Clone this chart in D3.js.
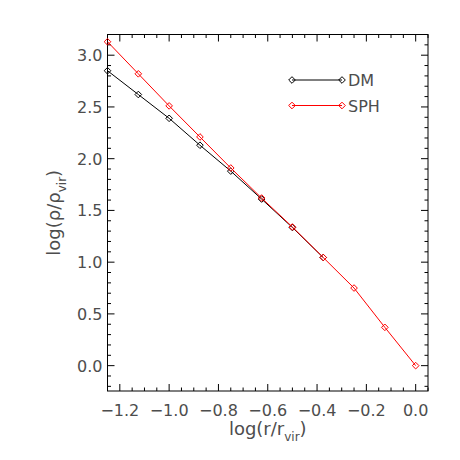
<!DOCTYPE html>
<html>
<head>
<meta charset="utf-8">
<script src="https://cdn.jsdelivr.net/npm/d3@7"></script>
<style>
  body { margin: 0; background: #fff; }
  text { font-family: "DejaVu Sans", Helvetica, Arial, sans-serif; fill: #4d4d4d; }
</style>
</head>
<body>
<div id="chart"></div>
<script>
// log(r/r_vir) sample points
const logR = [-1.25, -1.125, -1.0, -0.875, -0.75, -0.625, -0.5, -0.375, -0.25, -0.125, 0.0];
// log(rho/rho_vir) for each run
const dmRho = [2.85, 2.62, 2.39, 2.13, 1.88, 1.61, 1.335, 1.045];
const sphRho = [3.13, 2.82, 2.51, 2.21, 1.91, 1.62, 1.34, 1.045, 0.75, 0.37, 0.0];
const xTicks = [-1.2, -1.0, -0.8, -0.6, -0.4, -0.2, 0.0];
const yTicks = [0.0, 0.5, 1.0, 1.5, 2.0, 2.5, 3.0];
const seriesNames = ["DM", "SPH"];
const seriesColors = ["#000000", "#ff0000"];

const W = 460, H = 460;
const margin = { left: 107.5, right: 32, top: 34.5, bottom: 69 };

const svg = d3.select("#chart").append("svg")
    .attr("width", W)
    .attr("height", H);

const x = d3.scaleLinear().domain([-1.25, 0.05]).range([margin.left, W - margin.right]);
const y = d3.scaleLinear().domain([-0.245, 3.2]).range([H - margin.bottom, margin.top]);

const x0 = x.range()[0], x1 = x.range()[1];
const y0 = y.range()[0], y1 = y.range()[1];

// frame
svg.append("rect")
    .attr("x", x0).attr("y", y1)
    .attr("width", x1 - x0).attr("height", y0 - y1)
    .attr("fill", "none").attr("stroke", "#000").attr("stroke-width", 1);

const majorLen = 7, minorLen = 3.5;
const xMinor = d3.range(-1.25, 0.0501, 0.05).map(v => +v.toFixed(3));
const yMinor = d3.range(-0.2, 3.2001, 0.1).map(v => +v.toFixed(3));
const ticks = svg.append("g").attr("stroke", "#000").attr("stroke-width", 1);

xMinor.forEach(v => {
    const major = xTicks.some(t => Math.abs(t - v) < 1e-6);
    const len = major ? majorLen : minorLen;
    ticks.append("line").attr("x1", x(v)).attr("x2", x(v)).attr("y1", y0).attr("y2", y0 - len);
    ticks.append("line").attr("x1", x(v)).attr("x2", x(v)).attr("y1", y1).attr("y2", y1 + len);
});
yMinor.forEach(v => {
    const major = yTicks.some(t => Math.abs(t - v) < 1e-6);
    const len = major ? majorLen : minorLen;
    ticks.append("line").attr("y1", y(v)).attr("y2", y(v)).attr("x1", x0).attr("x2", x0 + len);
    ticks.append("line").attr("y1", y(v)).attr("y2", y(v)).attr("x1", x1).attr("x2", x1 - len);
});

const fmt = d3.format(".1f");
svg.append("g").selectAll("text").data(xTicks).join("text")
    .attr("x", d => x(d))
    .attr("y", y0 + 25)
    .attr("text-anchor", "middle")
    .attr("font-size", 16)
    .text(d => fmt(d));

svg.append("g").selectAll("text").data(yTicks).join("text")
    .attr("x", x0 - 5)
    .attr("y", d => y(d) + 6)
    .attr("text-anchor", "end")
    .attr("font-size", 16)
    .text(d => fmt(d));

// axis titles
const xt = svg.append("text")
    .attr("x", (x0 + x1) / 2)
    .attr("y", 435)
    .attr("text-anchor", "middle")
    .attr("font-size", 18);
xt.append("tspan").text("log(r/r");
xt.append("tspan").attr("font-size", 12).attr("dy", 6).text("vir");
xt.append("tspan").attr("dy", -6).text(")");

const yt = svg.append("text")
    .attr("transform", `translate(60,${(y0 + y1) / 2}) rotate(-90)`)
    .attr("text-anchor", "middle")
    .attr("font-size", 18);
yt.append("tspan").text("log(ρ/ρ");
yt.append("tspan").attr("font-size", 12).attr("dy", 6).text("vir");
yt.append("tspan").attr("dy", -6).text(")");

// series
const diamond = d3.symbol().type(d3.symbolDiamond2).size(28);
const series = [dmRho, sphRho];
series.forEach((vals, i) => {
    const pts = vals.map((v, j) => [logR[j], v]);
    svg.append("path")
        .datum(pts)
        .attr("fill", "none")
        .attr("stroke", seriesColors[i])
        .attr("stroke-width", 1)
        .attr("d", d3.line().x(d => x(d[0])).y(d => y(d[1])));
    svg.append("g").selectAll("path").data(pts).join("path")
        .attr("transform", d => `translate(${x(d[0])},${y(d[1])})`)
        .attr("d", diamond)
        .attr("fill", "none")
        .attr("stroke", seriesColors[i])
        .attr("stroke-width", 1);
});

// legend
const legend = svg.append("g");
seriesNames.forEach((name, i) => {
    const ly = 80 + i * 25.5;
    legend.append("line")
        .attr("x1", 292).attr("x2", 342).attr("y1", ly).attr("y2", ly)
        .attr("stroke", seriesColors[i]).attr("stroke-width", 1);
    [292, 342].forEach(lx => {
        legend.append("path")
            .attr("transform", `translate(${lx},${ly})`)
            .attr("d", diamond)
            .attr("fill", "none")
            .attr("stroke", seriesColors[i]);
    });
    legend.append("text")
        .attr("x", 348)
        .attr("y", ly + 6)
        .attr("font-size", 16)
        .text(name);
});
</script>
</body>
</html>
